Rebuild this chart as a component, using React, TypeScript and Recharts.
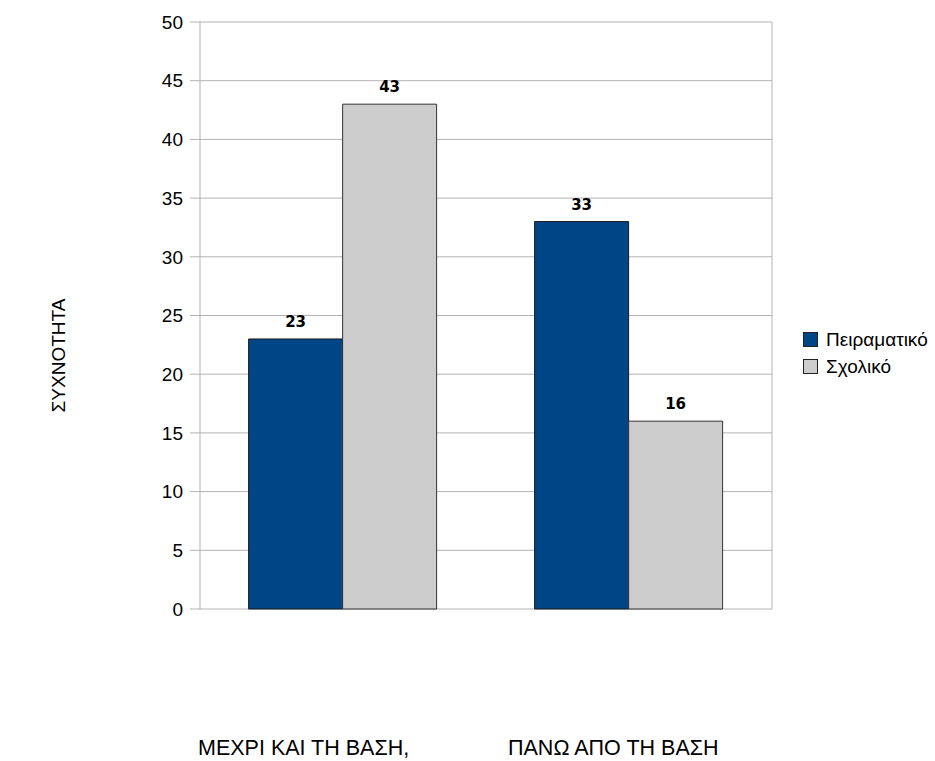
import { BarChart, Bar, XAxis, YAxis, CartesianGrid, LabelList } from "recharts"

const categories = ["ΜΕΧΡΙ ΚΑΙ ΤΗ ΒΑΣΗ,", "ΠΑΝΩ ΑΠΟ ΤΗ ΒΑΣΗ"]
const peiramatiko = [23, 33]
const sxoliko = [43, 16]
const yTicks = [0, 5, 10, 15, 20, 25, 30, 35, 40, 45, 50]

const data = categories.map((name, i) => ({
  name,
  peiramatiko: peiramatiko[i],
  sxoliko: sxoliko[i],
}))

const FONT = "'Liberation Sans', Arial, sans-serif"
const BLUE = "#004586"
const GRAY = "#cccccc"
const GRID = "#b3b3b3"

const series = [
  { key: "peiramatiko", label: "Πειραματικό", color: BLUE, edge: "#1a1a1a" },
  { key: "sxoliko", label: "Σχολικό", color: GRAY, edge: "#333" },
]

// horizontal nudge for each category caption
const captionShift = [-145, -121]

function CategoryTick(props: any) {
  const { x, y, payload, index } = props
  return (
    <text x={x + captionShift[index]} y={y + 146} textAnchor="start" fontSize={21.5} fontFamily={FONT} fill="#000">
      {payload.value}
    </text>
  )
}

function AxisTitle(props: any) {
  const vb = props.viewBox
  const cx = vb.x + 58
  const cy = vb.y + vb.height / 2 + 40
  return (
    <text x={cx} y={cy} transform={`rotate(-90, ${cx}, ${cy})`} textAnchor="middle" dominantBaseline="central" fontSize={19} fontFamily={FONT} fill="#000">
      ΣΥΧΝΟΤΗΤΑ
    </text>
  )
}

function LegendBox() {
  return (
    <div style={{ position: "absolute", left: 803, top: 326, fontFamily: FONT, fontSize: 19 }}>
      {series.map((s) => (
        <div key={s.key} style={{ display: "flex", alignItems: "center", height: 27 }}>
          <span style={{ width: 13, height: 13, background: s.color, border: "1px solid #222", marginRight: 8 }} />
          <span>{s.label}</span>
        </div>
      ))}
    </div>
  )
}

export default function App() {
  return (
    <div style={{ position: "absolute", left: 0, top: 0, width: 935, height: 761, background: "#fff" }}>
      <BarChart
        width={935}
        height={761}
        data={data}
        margin={{ top: 22, right: 0, left: 0, bottom: 0 }}
        barCategoryGap="17%"
        barGap={0}
      >
        <CartesianGrid vertical={false} stroke={GRID} />
        <XAxis dataKey="name" height={152} axisLine={false} tickLine={false} tickSize={0} tickMargin={0} tick={<CategoryTick />} interval={0} />
        <YAxis
          width={200}
          domain={[0, 50]}
          ticks={yTicks}
          tickSize={10}
          tickMargin={7}
          stroke={GRID}
          tick={{ fill: "#000", fontSize: 19, fontFamily: FONT }}
          label={<AxisTitle />}
        />
        <YAxis yAxisId="edge" orientation="right" width={163} domain={[0, 50]} tick={false} tickLine={false} stroke={GRID} />
        {series.map((s) => (
          <Bar key={s.key} dataKey={s.key} name={s.label} fill={s.color} stroke={s.edge} strokeWidth={1} isAnimationActive={false}>
            <LabelList dataKey={s.key} position="top" offset={12} fontSize={15} fontWeight="bold" fontFamily="'DejaVu Sans', sans-serif" fill="#000" />
          </Bar>
        ))}
      </BarChart>
      <LegendBox />
    </div>
  )
}
